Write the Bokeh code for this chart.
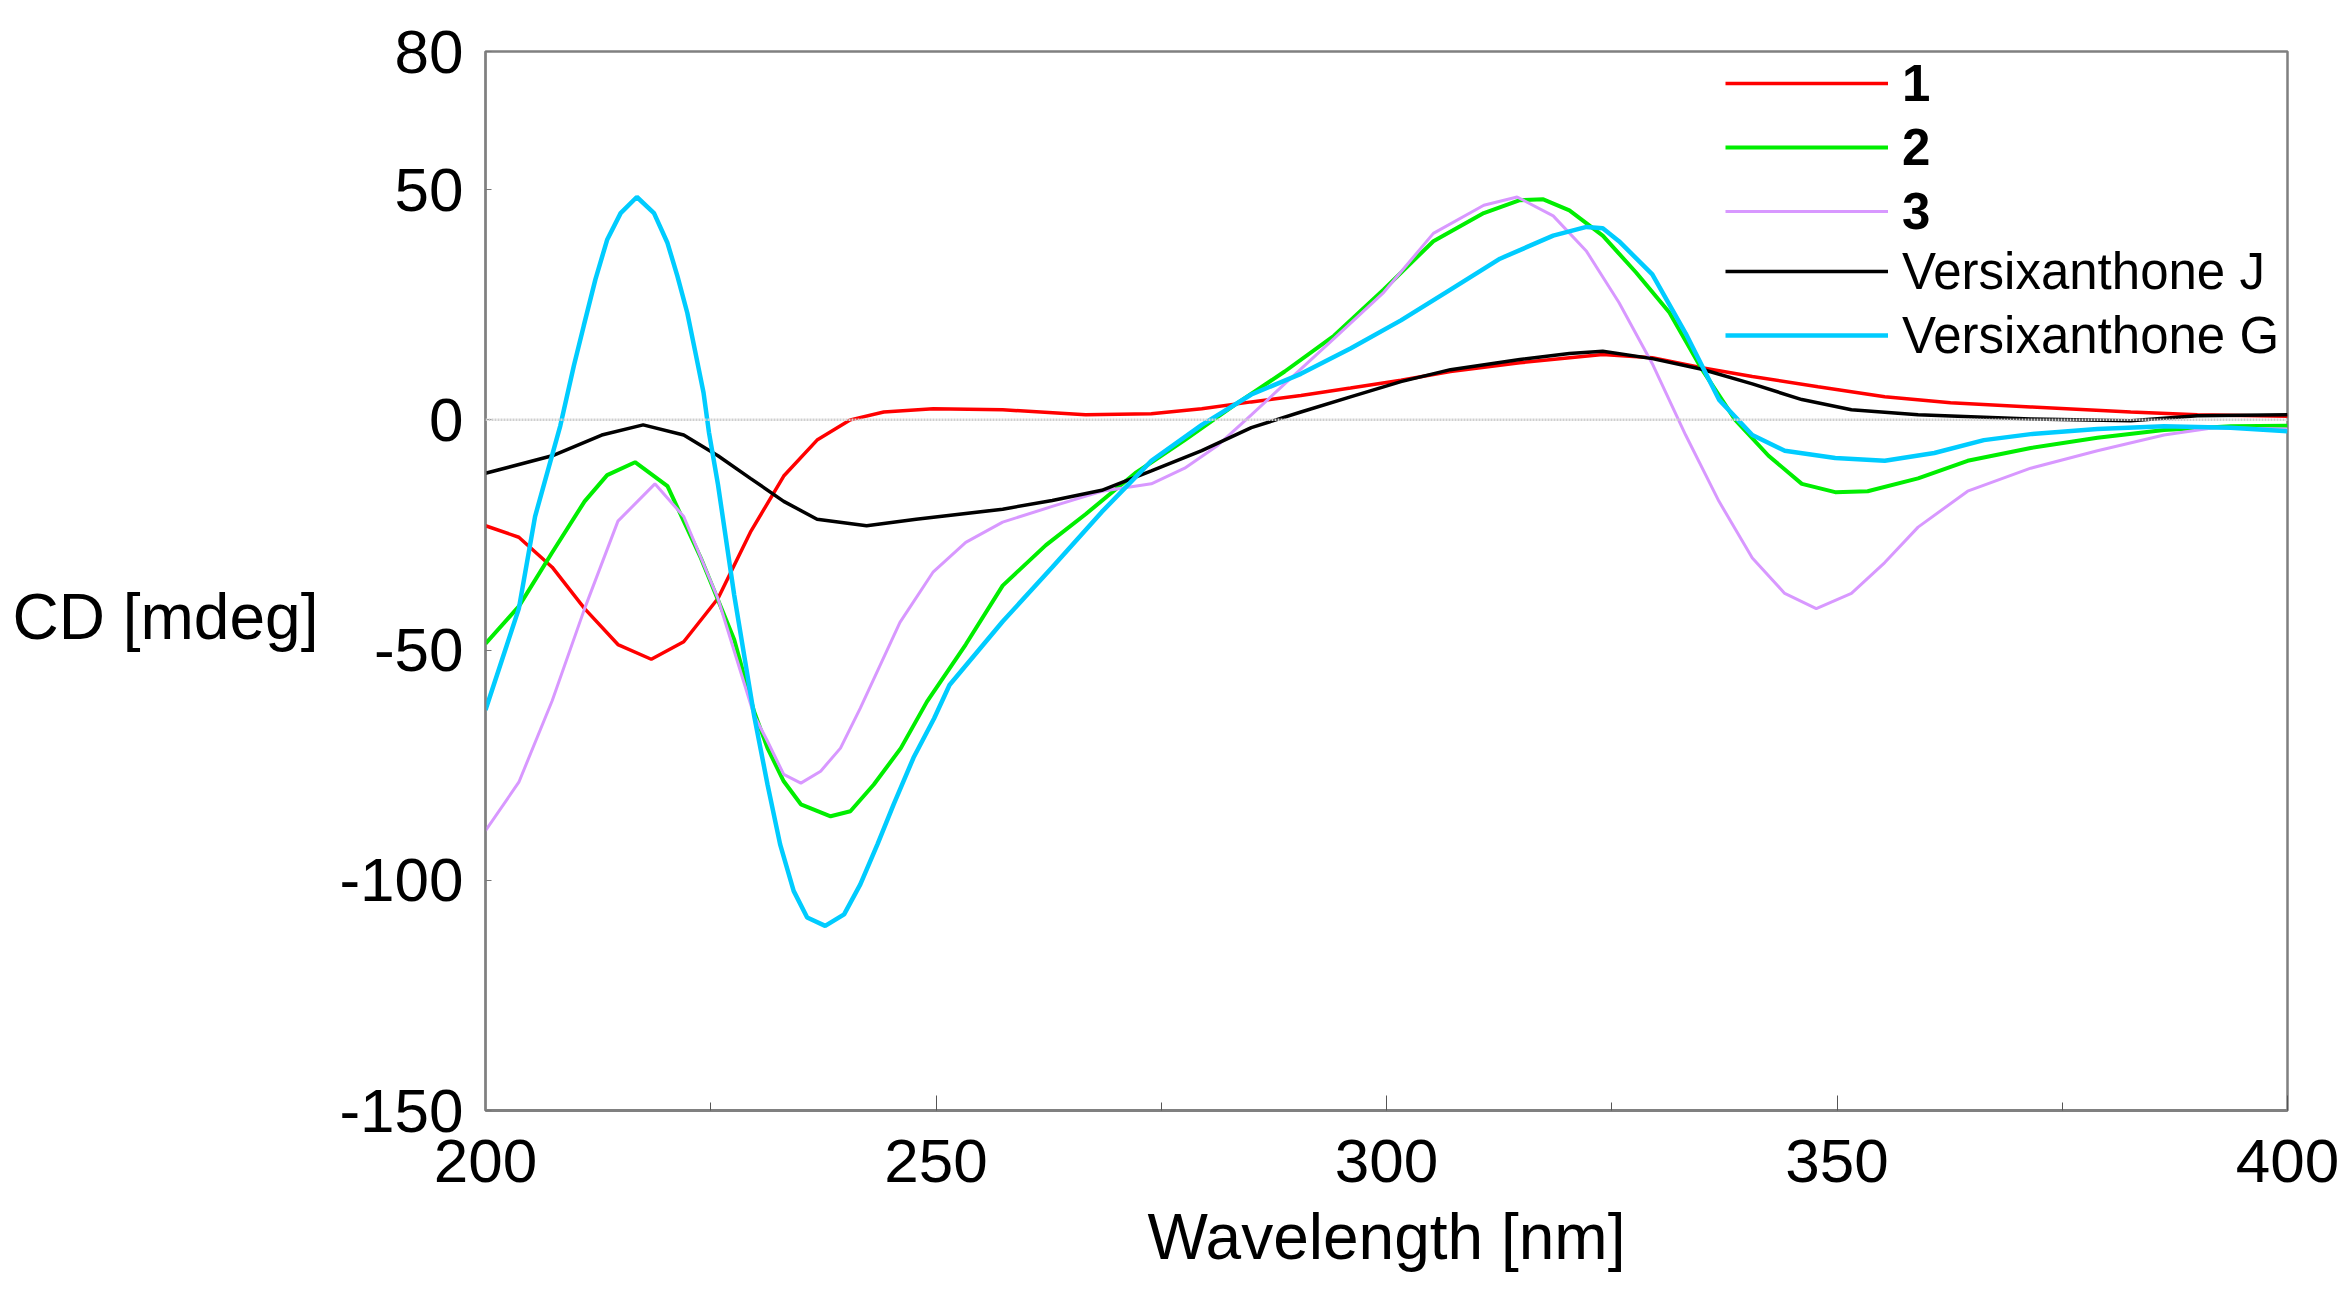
from bokeh.plotting import figure
from bokeh.models import (Range1d, FixedTicker, Span, Legend, LegendItem)
from bokeh.embed import file_html
from bokeh.resources import INLINE

# ---- data ----
wl_1 = [200, 203.7, 207.4, 211, 214.7, 218.4, 222, 225.8, 229.4, 233.1, 236.8, 240.5,
        244.2, 249.7, 257.4, 266.6, 273.9, 279.5, 285, 290.5, 296, 301.6, 307.1, 314.8,
        324, 329.5, 335, 340.6, 347.9, 355.3, 362.6, 371.5, 382.6, 390, 400]
cd_1 = [-23, -25.5, -32, -41, -48.8, -52, -48.2, -38.8, -24.4, -12.2, -4.4, 0,
        1.7, 2.4, 2.2, 1.1, 1.3, 2.4, 3.9, 5.3, 6.9, 8.6, 10.5, 12.4,
        14.2, 13.5, 11.3, 9.4, 7.2, 5.0, 3.7, 2.8, 1.7, 1.1, 0.8]

wl_2 = [200, 203.7, 207.4, 211, 213.5, 216.6, 220.2, 223.9, 227.6, 229.8, 231.3, 233.1,
        235, 238.3, 240.5, 243.1, 246.1, 249, 253.3, 257.4, 262.2, 266.6, 272.1, 277.6,
        283.2, 288.7, 294.2, 299.7, 305.2, 310.8, 314.8, 317.4, 320.3, 324, 327.7, 331.4,
        335, 338.7, 342.4, 346.1, 349.8, 353.4, 359, 364.5, 371.5, 378.9, 386.3, 393.7, 400]
cd_2 = [-48.6, -40.5, -28.8, -17.7, -12, -9.2, -14.4, -30, -47.7, -63.3, -71.3, -78.5,
        -83.5, -86.1, -85, -79.2, -71.3, -61.2, -48.8, -36, -27.2, -20.5, -11.6, -4.4,
        3.3, 10.5, 18.3, 28.3, 38.8, 44.9, 47.7, 47.9, 45.5, 40, 32, 23.3,
        11, 0, -7.8, -13.9, -15.7, -15.5, -12.7, -8.9, -6.1, -3.9, -2.2, -1.4, -1.3]

wl_3 = [200, 203.7, 207.4, 211, 214.7, 218.8, 222, 225.8, 229.8, 231.3, 233.1, 235,
        237.2, 239.4, 241.6, 246, 249.7, 253.3, 257.4, 262.9, 268.4, 273.9, 277.6, 281.3,
        285, 288.7, 294.2, 299.7, 305.2, 310.8, 314.5, 318.5, 322.2, 325.8, 329.5, 333.2,
        336.9, 340.6, 344.2, 347.7, 351.6, 355.3, 359, 364.5, 371.5, 378.9, 386.3, 391.8, 400]
cd_3 = [-89.2, -78.7, -61, -41, -22, -13.9, -21, -38.8, -64.1, -69.8, -77, -78.9,
        -76.3, -71.3, -62.6, -44, -33, -26.6, -22.2, -18.8, -15.5, -13.9, -10.5, -5.5,
        1.1, 7.8, 17.7, 27.7, 40.5, 46.6, 48.4, 44.3, 36.6, 25.5, 12.2, -3.3,
        -17.7, -30, -37.7, -41, -37.7, -31, -23.3, -15.5, -10.5, -6.7, -3.3, -1.7, -2]

wl_j = [200, 207.4, 212.9, 217.5, 222, 225.8, 229.4, 233.1, 236.8, 242.3, 247.8, 257.4,
        262.9, 268.4, 273.9, 279.5, 285, 290.5, 296, 301.6, 307.1, 314.8, 320.3, 324,
        329.5, 335, 340.6, 346.1, 351.6, 359, 371.5, 382.6, 390, 400]
cd_j = [-11.6, -7.8, -3.3, -1.1, -3.3, -7.8, -12.7, -17.7, -21.6, -23, -21.6, -19.4,
        -17.5, -15.3, -11.1, -6.7, -1.7, 1.7, 5.0, 8.3, 10.9, 13.1, 14.4, 14.9,
        13.3, 11.0, 7.8, 4.4, 2.2, 1.1, 0.2, -0.2, 0.9, 1.1]

wl_g = [200, 203.7, 205.5, 208.3, 209.8, 210.9, 212.2, 213.5, 215.0, 216.8, 218.7, 220.2,
        221.3, 222.4, 223.3, 224.2, 224.8, 225.8, 227.6, 229.8, 231.3, 232.7, 234.2, 235.7,
        237.7, 239.8, 241.6, 243.5, 245.3, 247.5, 249.8, 251.5, 257.4, 262.9, 268.4, 273.9,
        279.5, 285, 290.5, 296, 301.6, 307.1, 312.6, 318.5, 322.2, 324, 325.8, 329.5,
        333.2, 336.9, 340.6, 344.2, 349.8, 355.3, 360.8, 366.3, 371.5, 378.9, 386.3, 393.7, 400]
cd_g = [-63, -41, -21, -1.3, 11.7, 20.4, 30.5, 39.1, 44.9, 48.4, 44.9, 38.4,
        31.2, 23.2, 14.6, 5.9, -2.7, -14, -38, -64.1, -79.2, -92.2, -102.3, -108.1,
        -109.9, -107.4, -100.9, -92.2, -83.5, -73.4, -64.8, -57.6, -43.8, -32, -20, -8.9,
        -1.1, 5.5, 10, 15.5, 21.6, 28.3, 35, 40, 41.9, 41.6, 38.8, 31.6,
        18.8, 4.4, -3.3, -6.7, -8.3, -8.9, -7.2, -4.4, -3.1, -2, -1.4, -1.7, -2.5]

labels_bold = ["1", "2", "3"]
labels_plain = ["Versixanthone J", "Versixanthone G"]
x_ticks = [200, 250, 300, 350, 400]
x_minor = [225, 275, 325, 375]
y_ticks = [-150, -100, -50, 0, 50, 80]
y_title = "CD [mdeg]"
x_title = "Wavelength [nm]"

FONT = "Liberation Sans"

p = figure(width=2342, height=1300, output_backend="svg", toolbar_location=None,
           x_range=Range1d(200, 400), y_range=Range1d(-150, 80),
           min_border_left=485, min_border_right=55, min_border_top=51,
           min_border_bottom=190)
p.grid.visible = False
p.outline_line_color = "#808080"
p.outline_line_width = 2.5
p.background_fill_color = "white"
p.border_fill_color = "white"

zero = Span(location=0, dimension="width", line_color="#cfcfcf", line_width=2.5,
            line_dash="2 1")
p.add_layout(zero)

r1 = p.line(wl_1, cd_1, line_color="#FF0000", line_width=3.5)
r2 = p.line(wl_2, cd_2, line_color="#00EE00", line_width=4)
r3 = p.line(wl_3, cd_3, line_color="#D898FF", line_width=3)
rj = p.line(wl_j, cd_j, line_color="#000000", line_width=3.5)
rg = p.line(wl_g, cd_g, line_color="#00CCFF", line_width=4.5)

# axes
xa = p.xaxis[0]
xa.ticker = FixedTicker(ticks=x_ticks, minor_ticks=x_minor)
xa.axis_label = x_title
xa.axis_label_text_font = FONT
xa.axis_label_text_font_size = "64px"
xa.axis_label_text_font_style = "normal"
xa.axis_label_text_color = "black"
xa.axis_label_standoff = 16
xa.major_label_text_font = FONT
xa.major_label_text_font_size = "62px"
xa.major_label_text_color = "black"
xa.major_label_standoff = 29
xa.major_tick_in = 15
xa.major_tick_out = 0
xa.minor_tick_in = 8
xa.minor_tick_out = 0
xa.major_tick_line_color = "#555555"
xa.minor_tick_line_color = "#555555"
xa.axis_line_color = "#808080"
xa.axis_line_width = 3

ya = p.yaxis[0]
ya.ticker = FixedTicker(ticks=y_ticks)
ya.major_label_overrides = {t: str(t) for t in y_ticks}
ya.major_label_text_font = FONT
ya.major_label_text_font_size = "62px"
ya.major_label_text_color = "black"
ya.major_label_standoff = 22
ya.major_tick_in = 6
ya.major_tick_out = 0
ya.minor_tick_in = 0
ya.minor_tick_out = 0
ya.major_tick_line_color = "#777777"
ya.axis_line_color = "#808080"
ya.axis_line_width = 2
# horizontal title; the leading line break lowers it to where the reference has it
ya.axis_label = "\n" + y_title
ya.axis_label_orientation = "horizontal"
ya.axis_label_text_font = FONT
ya.axis_label_text_font_size = "64px"
ya.axis_label_text_font_style = "normal"
ya.axis_label_text_color = "black"
ya.axis_label_text_line_height = 1.0
ya.axis_label_standoff = 18

def make_legend(items, loc, style):
    lg = Legend(items=items, location=loc, orientation="vertical")
    lg.label_text_font = FONT
    lg.label_text_font_size = "51px"
    lg.label_text_font_style = style
    lg.label_text_color = "black"
    lg.glyph_width = 163
    lg.glyph_height = 64
    lg.label_height = 64
    lg.label_standoff = 14
    lg.spacing = 0
    lg.padding = 0
    lg.margin = 0
    lg.border_line_alpha = 0
    lg.background_fill_alpha = 0
    return lg

leg1 = make_legend([LegendItem(label=labels_bold[0], renderers=[r1]),
                    LegendItem(label=labels_bold[1], renderers=[r2]),
                    LegendItem(label=labels_bold[2], renderers=[r3])],
                   (1240, 867), "bold")
leg2 = make_legend([LegendItem(label=labels_plain[0], renderers=[rj]),
                    LegendItem(label=labels_plain[1], renderers=[rg])],
                   (1240, 743), "normal")
p.add_layout(leg1)
p.add_layout(leg2)

open("out.html", "w").write(file_html(p, INLINE))
